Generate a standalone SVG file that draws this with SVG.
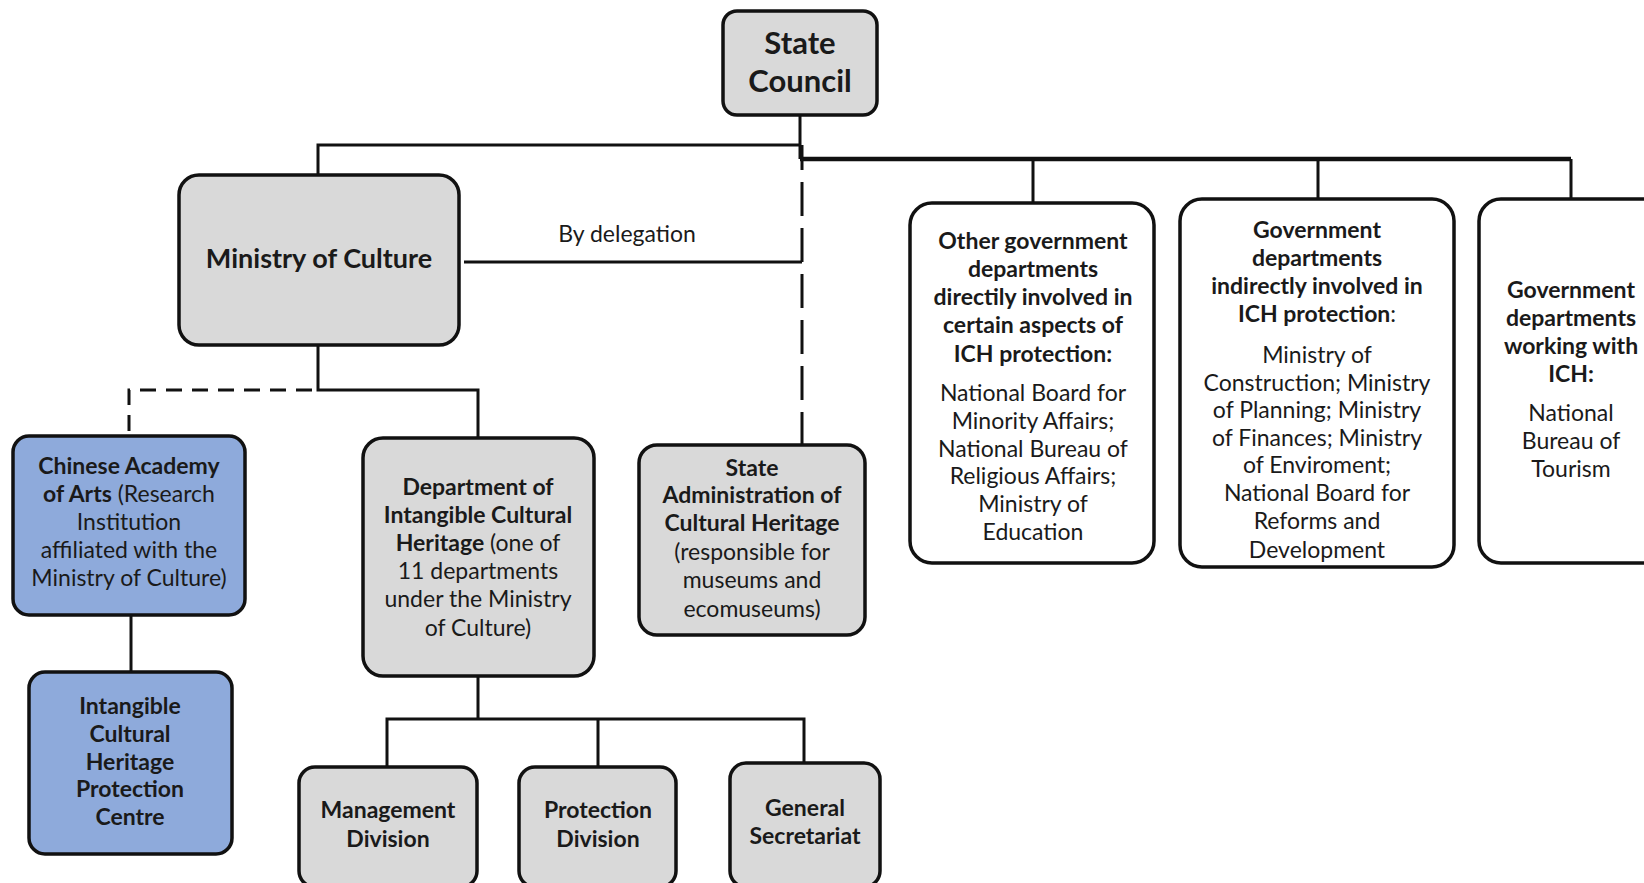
<svg xmlns="http://www.w3.org/2000/svg" width="1644" height="883" viewBox="0 0 1644 883">
<style>
.box{fill:#d9d9d9;stroke:#111;stroke-width:3.5}
.blue{fill:#8eaadb;stroke:#111;stroke-width:3.5}
.white{fill:#fff;stroke:#111;stroke-width:3.5}
text{font-family:Lato,"Open Sans","Liberation Sans",sans-serif;fill:#1a1a1a;text-anchor:middle}
.t{font-size:23px}
.b{font-weight:bold}
.line{fill:none;stroke:#111;stroke-width:3}
.dash{fill:none;stroke:#111;stroke-width:3;stroke-dasharray:16 10}
.ldash{fill:none;stroke:#111;stroke-width:3;stroke-dasharray:34 12}
</style>
<rect width="1644" height="883" fill="#fff"/>
<g id="connectors">
<path class="line" d="M800 115 V159"/>
<path class="line" d="M318 175 V145 H800"/>
<path style="fill:none;stroke:#111;stroke-width:4.5" d="M800 159 H1571"/>
<path class="line" d="M1033 159 V203 M1318 159 V199 M1571 159 V199"/>
<path class="line" d="M464 262 H802"/>
<path class="line" d="M802 145 V160"/>
<path class="ldash" d="M802 446 V160"/>
<path class="line" d="M318 345 V390 H478 V438"/>
<path class="dash" d="M312 390 H129 V435"/>
<path class="line" d="M131 615 V672"/>
<path class="line" d="M478 676 V719 M387 767 V719 H804 V763 M598 719 V767"/>
</g>
<g id="state-council">
<rect class="box" x="723" y="11" width="154" height="104" rx="14"/>
<text class="b" font-size="31" x="800" y="54">State</text>
<text class="b" font-size="31" x="800" y="92">Council</text>
</g>
<g id="ministry-of-culture">
<rect class="box" x="179" y="175" width="280" height="170" rx="20"/>
<text class="b" font-size="27" x="319" y="268">Ministry of Culture</text>
</g>
<g id="by-delegation">
<text font-size="23" x="627" y="242">By delegation</text>
</g>
<g id="chinese-academy">
<rect class="blue" x="13" y="436" width="232" height="179" rx="16"/>
<text class="t" x="129" y="474"><tspan class="b">Chinese Academy</tspan></text>
<text class="t" x="129" y="502"><tspan class="b">of Arts</tspan> (Research</text>
<text class="t" x="129" y="530">Institution</text>
<text class="t" x="129" y="558">affiliated with the</text>
<text class="t" x="129" y="586">Ministry of Culture)</text>
</g>
<g id="ich-protection-centre">
<rect class="blue" x="29" y="672" width="203" height="182" rx="16"/>
<text class="t b" x="130" y="714">Intangible</text>
<text class="t b" x="130" y="742">Cultural</text>
<text class="t b" x="130" y="770">Heritage</text>
<text class="t b" x="130" y="797">Protection</text>
<text class="t b" x="130" y="825">Centre</text>
</g>
<g id="department-ich">
<rect class="box" x="363" y="438" width="231" height="238" rx="20"/>
<text class="t" x="478" y="495"><tspan class="b">Department of</tspan></text>
<text class="t" x="478" y="523"><tspan class="b">Intangible Cultural</tspan></text>
<text class="t" x="478" y="551"><tspan class="b">Heritage</tspan> (one of</text>
<text class="t" x="478" y="579">11 departments</text>
<text class="t" x="478" y="607">under the Ministry</text>
<text class="t" x="478" y="636">of Culture)</text>
</g>
<g id="state-administration">
<rect class="box" x="639" y="445" width="226" height="190" rx="18"/>
<text class="t b" x="752" y="476">State</text>
<text class="t b" x="752" y="503">Administration of</text>
<text class="t b" x="752" y="531">Cultural Heritage</text>
<text class="t" x="752" y="560">(responsible for</text>
<text class="t" x="752" y="588">museums and</text>
<text class="t" x="752" y="617">ecomuseums)</text>
</g>
<g id="management-division">
<rect class="box" x="299" y="767" width="178" height="120" rx="16"/>
<text class="t b" x="388" y="818">Management</text>
<text class="t b" x="388" y="847">Division</text>
</g>
<g id="protection-division">
<rect class="box" x="519" y="767" width="157" height="120" rx="16"/>
<text class="t b" x="598" y="818">Protection</text>
<text class="t b" x="598" y="847">Division</text>
</g>
<g id="general-secretariat">
<rect class="box" x="730" y="763" width="150" height="124" rx="16"/>
<text class="t b" x="805" y="816">General</text>
<text class="t b" x="805" y="844">Secretariat</text>
</g>
<g id="other-departments">
<rect class="white" x="910" y="203" width="244" height="360" rx="22"/>
<text class="t b" x="1033" y="249">Other government</text>
<text class="t b" x="1033" y="277">departments</text>
<text class="t b" x="1033" y="305">directily involved in</text>
<text class="t b" x="1033" y="333">certain aspects of</text>
<text class="t b" x="1033" y="362">ICH protection:</text>
<text class="t" x="1033" y="401">National Board for</text>
<text class="t" x="1033" y="429">Minority Affairs;</text>
<text class="t" x="1033" y="457">National Bureau of</text>
<text class="t" x="1033" y="484">Religious Affairs;</text>
<text class="t" x="1033" y="512">Ministry of</text>
<text class="t" x="1033" y="540">Education</text>
</g>
<g id="indirect-departments">
<rect class="white" x="1180" y="199" width="274" height="368" rx="22"/>
<text class="t b" x="1317" y="238">Government</text>
<text class="t b" x="1317" y="266">departments</text>
<text class="t b" x="1317" y="294">indirectly involved in</text>
<text class="t" x="1317" y="322"><tspan class="b">ICH protection</tspan>:</text>
<text class="t" x="1317" y="363">Ministry of</text>
<text class="t" x="1317" y="391">Construction; Ministry</text>
<text class="t" x="1317" y="418">of Planning; Ministry</text>
<text class="t" x="1317" y="446">of Finances; Ministry</text>
<text class="t" x="1317" y="473">of Enviroment;</text>
<text class="t" x="1317" y="501">National Board for</text>
<text class="t" x="1317" y="529">Reforms and</text>
<text class="t" x="1317" y="558">Development</text>
</g>
<g id="working-departments">
<rect class="white" x="1479" y="199" width="190" height="364" rx="22"/>
<text class="t b" x="1571" y="298">Government</text>
<text class="t b" x="1571" y="326">departments</text>
<text class="t b" x="1571" y="354">working with</text>
<text class="t b" x="1571" y="382">ICH:</text>
<text class="t" x="1571" y="421">National</text>
<text class="t" x="1571" y="449">Bureau of</text>
<text class="t" x="1571" y="477">Tourism</text>
</g>
</svg>
